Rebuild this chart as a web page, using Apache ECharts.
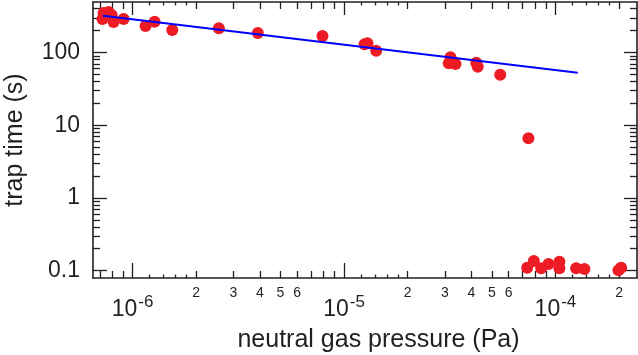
<!DOCTYPE html>
<html><head><meta charset="utf-8">
<script src="https://cdn.jsdelivr.net/npm/echarts@6/dist/echarts.min.js"></script>
<style>html,body{margin:0;padding:0;background:#fff}#c{width:638px;height:355px}</style>
</head><body><div id="c"></div>
<script>
// measured points
const pressure = [7.21e-7, 7.29e-7, 7.70e-7, 7.96e-7, 8.13e-7, 9.07e-7, 1.152e-6, 1.271e-6, 1.541e-6, 2.559e-6,
  3.912e-6, 7.91e-6, 1.250e-5, 1.291e-5, 1.420e-5, 3.188e-5, 3.13e-5, 3.367e-5, 4.22e-5, 4.29e-5,
  5.48e-5, 7.45e-5, 7.35e-5, 7.90e-5, 8.56e-5, 9.27e-5, 1.044e-4, 1.044e-4, 1.253e-4, 1.371e-4,
  1.986e-4, 2.045e-4];
const trapTime = [289, 349, 361, 328, 263, 289, 231, 265, 204, 215,
  185, 169, 130, 134, 106, 85.9, 71.0, 69.5, 72.4, 63.8,
  49.5, 6.60, 0.1096, 0.1355, 0.1075, 0.1233, 0.1326, 0.1075, 0.1075, 0.1052,
  0.1009, 0.1096];
// fitted line
const fitPressure = [7.24e-7, 1.275e-4];
const fitTime = [321, 52.7];
// axis ticks / labels
const xMajor = [1e-6, 1e-5, 1e-4];
const xMinor = [7e-7, 8e-7, 9e-7, 2e-6, 3e-6, 4e-6, 5e-6, 6e-6, 7e-6, 8e-6, 9e-6,
  2e-5, 3e-5, 4e-5, 5e-5, 6e-5, 7e-5, 8e-5, 9e-5, 2e-4];
const xSub = [1.2e-6, 1.4e-6, 1.6e-6, 1.8e-6, 1.2e-5, 1.4e-5, 1.6e-5, 1.8e-5, 1.2e-4, 1.4e-4, 1.6e-4, 1.8e-4];
const xMinorLabels = [2e-6, 3e-6, 4e-6, 5e-6, 6e-6, 2e-5, 3e-5, 4e-5, 5e-5, 6e-5, 2e-4];
const yMajor = [0.1, 1, 10, 100];
const yMinor = [0.2, 0.3, 0.4, 0.5, 0.6, 0.7, 0.8, 0.9, 2, 3, 4, 5, 6, 7, 8, 9,
  20, 30, 40, 50, 60, 70, 80, 90, 200, 300, 400];

const INK = '#231f20';
const FONT = 'Liberation Sans';
const X_MIN = 6.5e-7, X_MAX = 2.43e-4, Y_MIN = 0.0791, Y_MAX = 495;

function xAx(pos, ticks, len, label, line) {
  return {
    type: 'log', logBase: 10, min: X_MIN, max: X_MAX, position: pos,
    axisLine: { show: line, lineStyle: { color: INK, width: 1.6 } },
    axisTick: { show: true, inside: true, length: len, customValues: ticks, lineStyle: { color: INK, width: 1.3 } },
    axisLabel: label || { show: false },
    splitLine: { show: false }, minorTick: { show: false }, minorSplitLine: { show: false }
  };
}
function yAx(pos, ticks, len, label, line) {
  return {
    type: 'log', logBase: 10, min: Y_MIN, max: Y_MAX, position: pos,
    axisLine: { show: line, lineStyle: { color: INK, width: 1.6 } },
    axisTick: { show: true, inside: true, length: len, customValues: ticks, lineStyle: { color: INK, width: 1.3 } },
    axisLabel: label || { show: false },
    splitLine: { show: false }, minorTick: { show: false }, minorSplitLine: { show: false }
  };
}

const chart = echarts.init(document.getElementById('c'), null, { renderer: 'canvas' });
const xMain = xAx('bottom', xMajor, 15, {
  show: true, customValues: xMajor, margin: 16, color: INK,
  formatter: function (v) {
    const e = Math.round(Math.log10(v));
    return '{b|10}{s|' + e + '}';
  },
  rich: {
    b: { fontSize: 23, fontFamily: FONT, color: INK },
    s: { fontSize: 17, fontFamily: FONT, color: INK, padding: [0, 0, 14, 1] }
  }
}, true);
xMain.name = 'neutral gas pressure (Pa)';
xMain.nameLocation = 'middle';
xMain.nameGap = 50;
xMain.nameTextStyle = { fontSize: 25, fontFamily: FONT, color: INK, padding: [0, 0, 0, 27] };

const yMain = yAx('left', yMajor, 14, {
  show: true, customValues: yMajor, margin: 13, fontSize: 23, fontFamily: FONT, color: INK,
  formatter: function (v) { return String(v); }
}, true);
yMain.name = 'trap time (s)';
yMain.nameLocation = 'middle';
yMain.nameGap = 65;
yMain.nameTextStyle = { fontSize: 25, fontFamily: FONT, color: INK };

chart.setOption({
  animation: false,
  textStyle: { fontFamily: FONT },
  grid: { left: 93, right: 1, top: 2, bottom: 77, containLabel: false, outerBoundsMode: 'none' },
  xAxis: [
    xMain,
    xAx('bottom', xMinor, 7, {
      show: true, customValues: xMinorLabels, margin: 8, fontSize: 14, fontFamily: FONT, color: INK,
      formatter: function (v) { return String(Math.round(v / Math.pow(10, Math.floor(Math.log10(v) + 1e-9)))); }
    }, false),
    xAx('bottom', xSub, 3.5, null, false),
    xAx('top', xMajor, 13, null, true),
    xAx('top', xMinor, 7, null, false),
    xAx('top', xSub, 3.5, null, false)
  ],
  yAxis: [
    yMain,
    yAx('left', yMinor, 7, null, false),
    yAx('right', yMajor, 13, null, true),
    yAx('right', yMinor, 7, null, false)
  ],
  series: [
    {
      type: 'scatter', xAxisIndex: 0, yAxisIndex: 0, symbol: 'circle', symbolSize: 12,
      itemStyle: { color: '#ED1C24', opacity: 1 },
      data: pressure.map(function (p, i) { return [p, trapTime[i]]; }), z: 2
    },
    {
      type: 'line', xAxisIndex: 0, yAxisIndex: 0, showSymbol: false, symbol: 'none',
      lineStyle: { color: '#0000FF', width: 2 },
      data: fitPressure.map(function (p, i) { return [p, fitTime[i]]; }), z: 3
    }
  ]
});
</script>
</body></html>
